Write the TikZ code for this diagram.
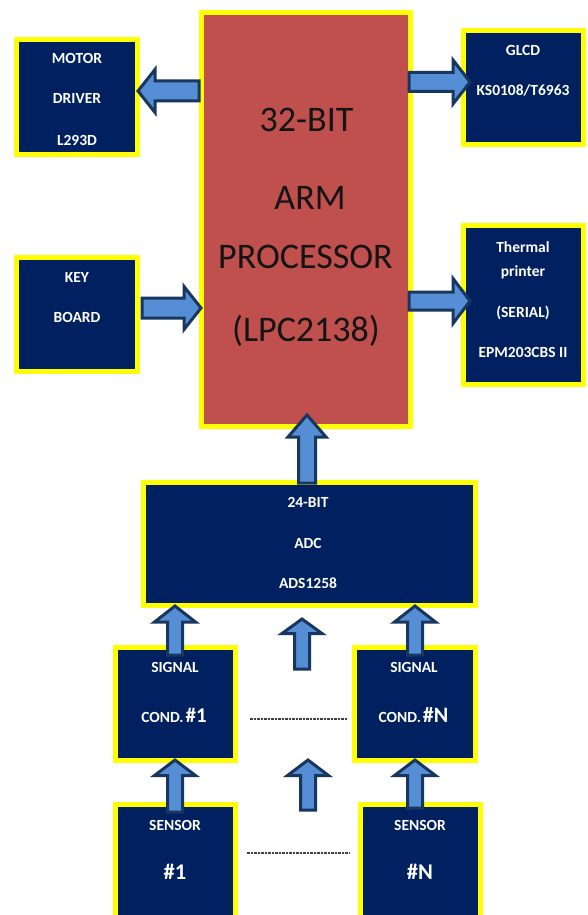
\documentclass[tikz,border=0pt]{standalone}
\usepackage{fontspec}
\setmainfont{Carlito}
\usetikzlibrary{calc,shadows}
\definecolor{navy}{HTML}{002060}
\definecolor{ylw}{HTML}{FFFF00}
\definecolor{procred}{HTML}{C0504D}
\definecolor{arrfill}{HTML}{558ED5}
\definecolor{arrline}{HTML}{17375E}
\definecolor{proctext}{HTML}{141414}
\tikzset{
  box/.style={draw=ylw, line width=5pt, fill=navy, inner sep=0pt,
    drop shadow={shadow xshift=1.5pt, shadow yshift=-1.5pt, opacity=.3}},
  procbox/.style={box, fill=procred},
  lbl/.style={text=white, font=\bfseries\fontsize{15.5}{18}\selectfont, anchor=base, inner sep=0pt},
  biglbl/.style={text=proctext, font=\fontsize{36}{40}\selectfont, anchor=base, inner sep=0pt},
  blk/.style={fill=arrfill, draw=arrline, line width=3pt, line join=miter},
  dots/.style={draw=black!75, line width=1.2pt, dash pattern=on 2.5pt off 1pt}
}
% block arrow: start, end, shaft half width, head half width, head length
\newcommand{\blockarr}[5]{%
  \draw[blk] ($(#1)!#3!90:(#2)$)
    -- ($($(#2)!#5!(#1)$)!#3!90:(#2)$)
    -- ($($(#2)!#5!(#1)$)!#4!90:(#2)$)
    -- (#2)
    -- ($($(#2)!#5!(#1)$)!#4!-90:(#2)$)
    -- ($($(#2)!#5!(#1)$)!#3!-90:(#2)$)
    -- ($(#1)!#3!-90:(#2)$) -- cycle;}
\begin{document}
\begin{tikzpicture}[x=1pt,y=-1pt]
\useasboundingbox (0,0) rectangle (587,915);
\clip (0,0) rectangle (587,915);
\fill[white] (0,0) rectangle (587,915);

% boxes (outer size minus line width)
\node[box, minimum width=121pt, minimum height=115pt] (motor) at (77,97) {};
\node[procbox, minimum width=209pt, minimum height=414pt] (proc) at (306,219.5) {};
\node[box, minimum width=120pt, minimum height=114pt] (glcd) at (523.5,87.5) {};
\node[box, minimum width=121pt, minimum height=114pt] (key) at (77,314.5) {};
\node[box, minimum width=120pt, minimum height=159pt] (printer) at (523.5,305) {};
\node[box, minimum width=332pt, minimum height=123pt] (adc) at (309.5,544) {};
\node[box, minimum width=120pt, minimum height=113pt] (cond1) at (175.5,704) {};
\node[box, minimum width=121pt, minimum height=113pt] (condN) at (415,704) {};
\node[box, minimum width=120pt, minimum height=113pt] (sens1) at (175.5,861) {};
\node[box, minimum width=120pt, minimum height=113pt] (sensN) at (420.5,861) {};

% texts
\node[lbl] (tm1) at (77,64) {MOTOR};
\node[lbl] (tm2) at (77,104) {DRIVER};
\node[lbl] (tm3) at (77,146) {L293D};
\node[lbl] (tg1) at (523,56) {GLCD};
\node[lbl] (tg2) at (523,96) {KS0108/T6963};
\node[lbl] (tk1) at (77,282) {KEY};
\node[lbl] (tk2) at (77,322) {BOARD};
\node[lbl] (tt1) at (523,252) {Thermal};
\node[lbl] (tt2) at (523,276) {printer};
\node[lbl] (tt3) at (523,317) {(SERIAL)};
\node[lbl] (tt4) at (523,357) {EPM203CBS II};
\node[biglbl] (tp1) at (306.5,131.5) {32-BIT};
\node[biglbl] (tp2) at (310,209.5) {ARM};
\node[biglbl] (tp3) at (305.5,268.5) {PROCESSOR};
\node[biglbl] (tp4) at (306,341.5) {(LPC2138)};
\node[lbl] (ta1) at (308,507) {24-BIT};
\node[lbl] (ta2) at (308,548) {ADC};
\node[lbl] (ta3) at (308,588) {ADS1258};
\node[lbl] (tc1) at (175,672) {SIGNAL};
\node[lbl] (tc2) at (174,722) {COND.\hspace{2pt}{\fontsize{21}{24}\selectfont\#1}};
\node[lbl] (tc3) at (414,672) {SIGNAL};
\node[lbl] (tc4) at (413.5,722) {COND.\hspace{2pt}{\fontsize{22}{24}\selectfont\#N}};
\node[lbl] (ts1) at (175,830) {SENSOR};
\node[lbl, font=\bfseries\fontsize{22.5}{26}\selectfont] (ts2) at (175,879) {\#1};
\node[lbl] (ts3) at (420,830) {SENSOR};
\node[lbl, font=\bfseries\fontsize{22.5}{26}\selectfont] (ts4) at (420,879) {\#N};

% arrow end points
\coordinate (a1s) at (199,91);   \coordinate (a1e) at (138,91);
\coordinate (a2s) at (409,82);   \coordinate (a2e) at (470,82);
\coordinate (a3s) at (142,308);  \coordinate (a3e) at (201,308);
\coordinate (a4s) at (409,301);  \coordinate (a4e) at (470,301);
\coordinate (a5s) at (307,483);  \coordinate (a5e) at (307,415);
\coordinate (a6s) at (175,655);  \coordinate (a6e) at (175,606);
\coordinate (a7s) at (302,669);  \coordinate (a7e) at (302,619);
\coordinate (a8s) at (415,655);  \coordinate (a8e) at (415,606);
\coordinate (a9s) at (175,812);  \coordinate (a9e) at (175,760);
\coordinate (a10s) at (308,810); \coordinate (a10e) at (308,760);
\coordinate (a11s) at (415,808); \coordinate (a11e) at (415,760);

\blockarr{a1s}{a1e}{10pt}{21.5pt}{17pt}
\blockarr{a2s}{a2e}{9.5pt}{22pt}{17pt}
\blockarr{a3s}{a3e}{10pt}{21.5pt}{17pt}
\blockarr{a4s}{a4e}{9pt}{22.5pt}{17pt}
\blockarr{a5s}{a5e}{8.5pt}{19pt}{22pt}
\blockarr{a6s}{a6e}{7.5pt}{20.5pt}{16pt}
\blockarr{a7s}{a7e}{7.5pt}{20pt}{14.5pt}
\blockarr{a8s}{a8e}{7.5pt}{20.5pt}{16pt}
\blockarr{a9s}{a9e}{7.5pt}{20.5pt}{15.5pt}
\blockarr{a10s}{a10e}{7.5pt}{20.5pt}{15.5pt}
\blockarr{a11s}{a11e}{7.5pt}{20.5pt}{15.5pt}

% dotted separators
\coordinate (d1a) at (250,719); \coordinate (d1b) at (347,719);
\coordinate (d2a) at (247,853); \coordinate (d2b) at (349,853);
\draw[dots] (d1a) -- (d1b);
\draw[dots] (d2a) -- (d2b);
\end{tikzpicture}
\end{document}
